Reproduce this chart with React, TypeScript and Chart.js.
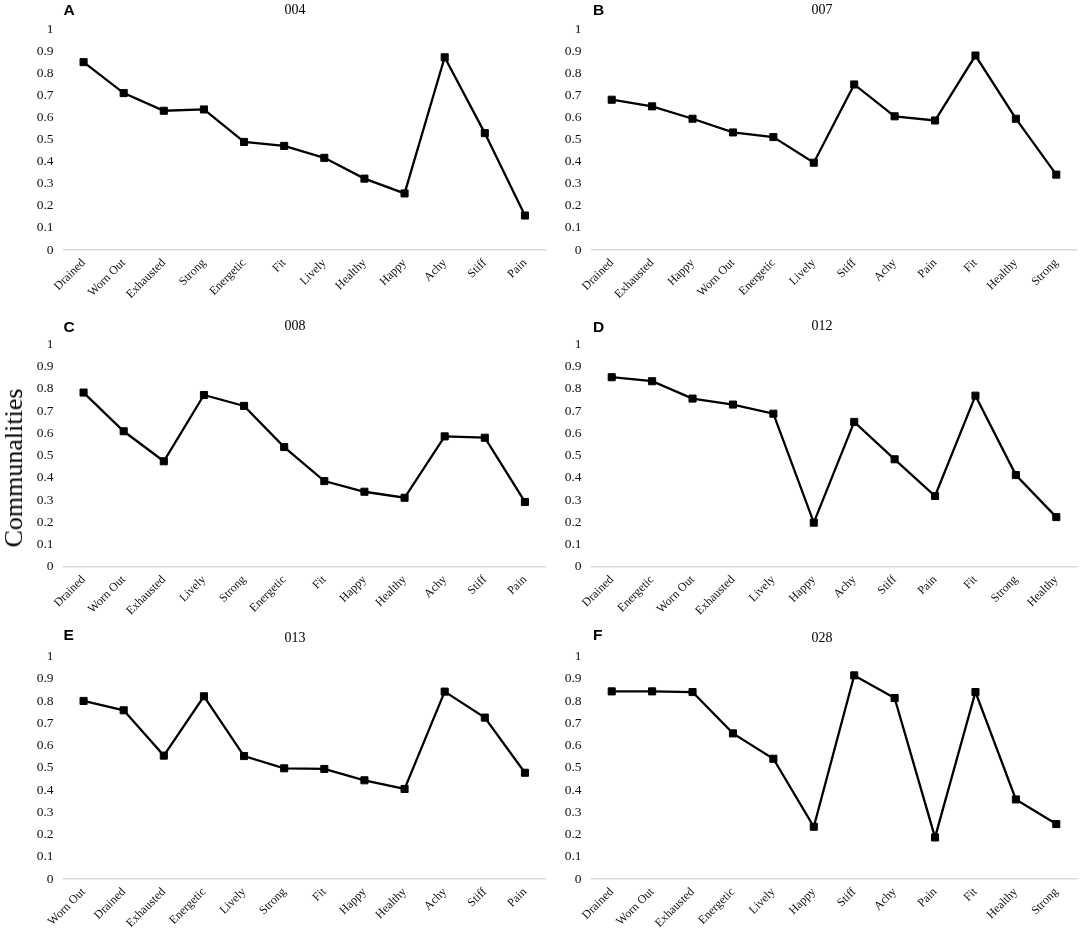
import React, { useEffect, useRef } from "react";
import { Chart, registerables } from "chart.js";

Chart.register(...registerables);

// ---------- data ----------
const yTickLabels = ["0", "0.1", "0.2", "0.3", "0.4", "0.5", "0.6", "0.7", "0.8", "0.9", "1"];

const catsA = ["Drained", "Worn Out", "Exhausted", "Strong", "Energetic", "Fit", "Lively", "Healthy", "Happy", "Achy", "Stiff", "Pain"];
const valsA = [0.85, 0.71, 0.63, 0.636, 0.489, 0.471, 0.417, 0.323, 0.256, 0.872, 0.529, 0.156];

const catsB = ["Drained", "Exhausted", "Happy", "Worn Out", "Energetic", "Lively", "Stiff", "Achy", "Pain", "Fit", "Healthy", "Strong"];
const valsB = [0.68, 0.65, 0.594, 0.532, 0.511, 0.395, 0.749, 0.605, 0.586, 0.88, 0.594, 0.341];

const catsC = ["Drained", "Worn Out", "Exhausted", "Lively", "Strong", "Energetic", "Fit", "Happy", "Healthy", "Achy", "Stiff", "Pain"];
const valsC = [0.783, 0.609, 0.474, 0.772, 0.723, 0.538, 0.385, 0.337, 0.31, 0.586, 0.58, 0.291];

const catsD = ["Drained", "Energetic", "Worn Out", "Exhausted", "Lively", "Happy", "Achy", "Stiff", "Pain", "Fit", "Strong", "Healthy"];
const valsD = [0.852, 0.834, 0.756, 0.729, 0.688, 0.198, 0.651, 0.483, 0.318, 0.769, 0.412, 0.223];

const catsE = ["Worn Out", "Drained", "Exhausted", "Energetic", "Lively", "Strong", "Fit", "Happy", "Healthy", "Achy", "Stiff", "Pain"];
const valsE = [0.801, 0.759, 0.555, 0.822, 0.553, 0.498, 0.495, 0.444, 0.405, 0.843, 0.726, 0.478];

const catsF = ["Drained", "Worn Out", "Exhausted", "Energetic", "Lively", "Happy", "Stiff", "Achy", "Pain", "Fit", "Healthy", "Strong"];
const valsF = [0.844, 0.844, 0.841, 0.655, 0.541, 0.235, 0.916, 0.814, 0.187, 0.841, 0.358, 0.247];

const panelLetters = ["A", "B", "C", "D", "E", "F"];
const panelTitles = ["004", "007", "008", "012", "013", "028"];
const yAxisTitle = "Communalities";

// ---------- layout ----------
type Box = {
  left: number; top: number; width: number; height: number;
  areaLeft: number; areaTop: number; areaRight: number; areaBottom: number;
  letterX: number; letterY: number; titleX: number; titleY: number;
};

const leftCol = { left: 0, width: 551, areaLeft: 63.5, areaRight: 548, letterX: 63.5, titleX: 295 };
const rightCol = { left: 542, width: 542, areaLeft: 591.5, areaRight: 1076.5, letterX: 593, titleX: 822 };
const row1 = { top: 0, height: 305, areaTop: 29, areaBottom: 250, letterY: 10, titleY: 10 };
const row2 = { top: 305, height: 315, areaTop: 344.3, areaBottom: 566.7, letterY: 327, titleY: 326 };
const row3 = { top: 620, height: 317, areaTop: 656.7, areaBottom: 879, letterY: 635, titleY: 638 };

const boxes: Box[] = [
  { ...leftCol, ...row1 },
  { ...rightCol, ...row1 },
  { ...leftCol, ...row2 },
  { ...rightCol, ...row2 },
  { ...leftCol, ...row3 },
  { ...rightCol, ...row3 },
];

const panelCats = [catsA, catsB, catsC, catsD, catsE, catsF];
const panelVals = [valsA, valsB, valsC, valsD, valsE, valsF];

const SERIF = '"Liberation Serif", "Times New Roman", serif';
const SANS = '"Liberation Sans", Arial, sans-serif';

function Panel({ box, cats, vals }: { box: Box; cats: string[]; vals: number[] }) {
  const ref = useRef<HTMLCanvasElement>(null);
  useEffect(() => {
    const padTop = box.areaTop - box.top;
    const yW = box.areaLeft - box.left;
    const padRight = box.left + box.width - box.areaRight;
    const xH = box.top + box.height - box.areaBottom;
    const chart = new Chart(ref.current as HTMLCanvasElement, {
      type: "line",
      data: {
        labels: cats,
        datasets: [
          {
            data: vals,
            borderColor: "#000",
            backgroundColor: "#000",
            borderWidth: 2.3,
            pointStyle: "rect",
            pointRadius: 5,
            pointBackgroundColor: "#000",
            pointBorderColor: "#000",
            pointBorderWidth: 1,
            tension: 0,
            fill: false,
          },
        ],
      },
      options: {
        responsive: false,
        animation: false,
        layout: { padding: { top: padTop, right: padRight, left: 0, bottom: 0 } },
        plugins: {
          legend: { display: false },
          title: { display: false },
          tooltip: { enabled: false },
        },
        scales: {
          x: {
            type: "category",
            offset: true,
            grid: { display: false, drawTicks: false },
            border: { display: true, color: "#d9d9d9", width: 1.5 },
            ticks: {
              autoSkip: false,
              minRotation: 45,
              maxRotation: 45,
              padding: 6,
              color: "#111",
              font: { family: SERIF, size: 12 },
            },
            afterFit: (s: any) => {
              s.height = xH;
            },
          },
          y: {
            min: 0,
            max: 1,
            grid: { display: false, drawTicks: false },
            border: { display: false },
            ticks: {
              stepSize: 0.1,
              padding: 10,
              color: "#111",
              font: { family: SERIF, size: 13.5 },
              callback: (v: any) => yTickLabels[Math.round(Number(v) * 10)],
            },
            afterFit: (s: any) => {
              s.width = yW;
            },
          },
        },
      },
    });
    return () => chart.destroy();
  }, [box, cats, vals]);

  return (
    <canvas
      ref={ref}
      width={box.width}
      height={box.height}
      style={{ position: "absolute", left: box.left, top: box.top, width: box.width, height: box.height }}
    />
  );
}

export default function App() {
  return (
    <div style={{ position: "absolute", left: 0, top: 0, width: 1084, height: 937, background: "#fff", overflow: "hidden" }}>
      {boxes.map((b, i) => (
        <Panel key={i} box={b} cats={panelCats[i]} vals={panelVals[i]} />
      ))}
      {boxes.map((b, i) => (
        <div
          key={"l" + i}
          style={{
            position: "absolute",
            left: b.letterX,
            top: b.letterY - 10,
            lineHeight: "20px",
            fontFamily: SANS,
            fontWeight: "bold",
            fontSize: 15.5,
            color: "#000",
          }}
        >
          {panelLetters[i]}
        </div>
      ))}
      {boxes.map((b, i) => (
        <div
          key={"t" + i}
          style={{
            position: "absolute",
            left: b.titleX,
            top: b.titleY - 10,
            transform: "translateX(-50%)",
            lineHeight: "20px",
            fontFamily: SERIF,
            fontSize: 14,
            color: "#000",
            whiteSpace: "nowrap",
          }}
        >
          {panelTitles[i]}
        </div>
      ))}
      <div style={{ position: "absolute", left: 14, top: 468, width: 0, height: 0 }}>
        <div
          style={{
            position: "absolute",
            left: 0,
            top: 0,
            transform: "translate(-50%, -50%) rotate(-90deg)",
            fontFamily: SERIF,
            fontSize: 26,
            lineHeight: "30px",
            whiteSpace: "nowrap",
            color: "#000",
          }}
        >
          {yAxisTitle}
        </div>
      </div>
    </div>
  );
}
